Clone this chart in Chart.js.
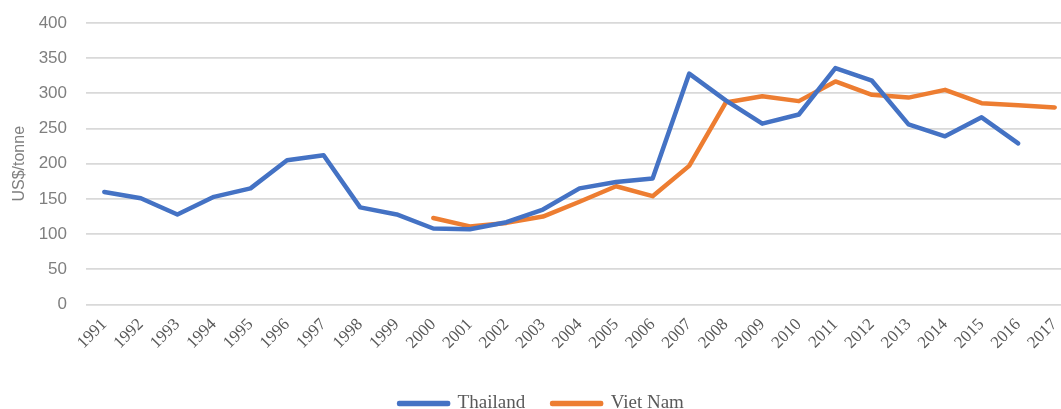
<!DOCTYPE html>
<html>
<head>
<meta charset="utf-8">
<script src="https://cdn.jsdelivr.net/npm/chart.js@4/dist/chart.umd.min.js"></script>
<style>
  html, body { margin: 0; padding: 0; background: #fff; overflow: hidden; }
  #wrap { position: absolute; left: 0; top: 0; width: 1080px; height: 423px; }
</style>
</head>
<body>
<div id="wrap"><canvas id="priceChart"></canvas></div>
<script>
// Export price, US$/tonne
const years = ["1991","1992","1993","1994","1995","1996","1997","1998","1999","2000",
  "2001","2002","2003","2004","2005","2006","2007","2008","2009","2010",
  "2011","2012","2013","2014","2015","2016","2017"];

const thailand = [160, 151, 128, 153, 165, 205, 212, 138, 128, 108,
  107, 117, 135, 165, 174, 179, 328, 290, 257, 270,
  336, 318, 256, 239, 266, 229, null];

const vietNam = [null, null, null, null, null, null, null, null, null, 123,
  111, 116, 125, 146, 168, 154, 197, 287, 296, 289,
  317, 298, 294, 305, 286, 283, 280];

const yTicks = [0, 50, 100, 150, 200, 250, 300, 350, 400];

document.addEventListener("DOMContentLoaded", () => {
    const ctx = document.getElementById("priceChart");

    new Chart(ctx, {
        type: "line",
        data: {
            labels: years,
            datasets: [{
                label: "Thailand",
                data: thailand,
                borderColor: "#4472C4",
                backgroundColor: "#4472C4",
                borderWidth: 4.5,
                borderCapStyle: "round",
                borderJoinStyle: "round",
                tension: 0,
                pointRadius: 0,
                fill: false
            }, {
                label: "Viet Nam",
                data: vietNam,
                borderColor: "#ED7D31",
                backgroundColor: "#ED7D31",
                borderWidth: 4.5,
                borderCapStyle: "round",
                borderJoinStyle: "round",
                tension: 0,
                pointRadius: 0,
                fill: false
            }]
        },
        options: {
            responsive: true,
            maintainAspectRatio: false,
            animation: false,
            layout: { padding: { top: 23, right: 7, left: 10, bottom: 0 } },
            plugins: {
                tooltip: { enabled: false },
                legend: {
                    position: "bottom",
                    labels: {
                        boxWidth: 49,
                        boxHeight: 1,
                        padding: 27,
                        color: "#595959",
                        font: { family: "'Liberation Serif', serif", size: 19 }
                    }
                }
            },
            scales: {
                x: {
                    offset: true,
                    grid: { display: false },
                    border: { display: false },
                    afterFit: (scale) => { scale.height += 12; },
                    ticks: {
                        minRotation: 45,
                        maxRotation: 45,
                        autoSkip: false,
                        padding: 2,
                        color: "#595959",
                        font: { family: "'Liberation Serif', serif", size: 17 }
                    }
                },
                y: {
                    min: 0,
                    max: 400,
                    afterBuildTicks: (scale) => {
                        scale.ticks = yTicks.map(v => ({ value: v }));
                    },
                    afterFit: (scale) => {
                        // fixed axis width so the plot starts where the original does
                        scale.width = 76;
                        scale.paddingTop = 0;
                        scale.paddingBottom = 0;
                    },
                    grid: { color: "#d9d9d9", lineWidth: 1.8, drawTicks: false },
                    border: { display: false },
                    ticks: {
                        padding: 19,
                        color: "#7f7f7f",
                        font: { family: "'Liberation Sans', sans-serif", size: 17 }
                    },
                    title: {
                        display: true,
                        text: "US$/tonne",
                        color: "#7f7f7f",
                        padding: { top: 0, bottom: 4 },
                        font: { family: "'Liberation Sans', sans-serif", size: 16 }
                    }
                }
            }
        }
    });
});
</script>
</body>
</html>
